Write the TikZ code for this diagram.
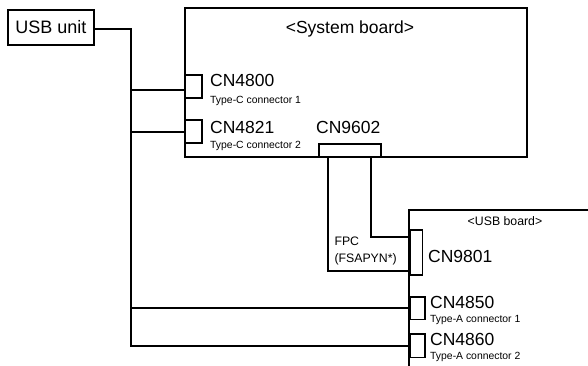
\documentclass[tikz,border=0pt]{standalone}
\usepackage{fontspec}
\setmainfont{Liberation Sans}
\usetikzlibrary{positioning}

\begin{document}
\begin{tikzpicture}[
    x=1pt, y=-1pt,
    wire/.style={line width=1.8pt},
    board/.style={draw, line width=1.8pt, anchor=north west, inner sep=0pt},
    conn/.style={draw, line width=1.8pt, anchor=north west, inner sep=0pt},
    bigtxt/.style={font=\fontsize{17.5}{20}\selectfont, inner sep=0pt, anchor=base west},
    midtxt/.style={font=\fontsize{12.3}{14}\selectfont, inner sep=0pt, anchor=base west},
    smalltxt/.style={font=\fontsize{10.4}{12}\selectfont, inner sep=0pt, anchor=base west},
  ]
  \useasboundingbox (0,0) rectangle (588,366);

  % USB unit and its bus
  \node[draw, line width=1.8pt, minimum width=86pt, minimum height=35pt, inner sep=0pt,
        font=\fontsize{18}{20}\selectfont] (unit) at (51,27.5) {USB unit};
  \coordinate (busTop) at (131,29);
  \coordinate (busBot) at (131,346);

  % System board
  \node[board, minimum width=342pt, minimum height=149pt] (sysboard) at (184,7) {};
  \node[bigtxt, anchor=base] (systitle) at (350,34) {<System board>};
  \node[conn, minimum width=17pt, minimum height=23pt] (cn4800) at (184,74) {};
  \node[conn, minimum width=17pt, minimum height=23pt] (cn4821) at (184,119.5) {};
  \node[conn, minimum width=62pt, minimum height=12.5pt] (cn9602) at (318,143.5) {};
  \node[bigtxt] (cn4800lbl) at (210,87) {CN4800};
  \node[smalltxt] (cn4800sub) at (210,103.5) {Type-C connector 1};
  \node[bigtxt] (cn4821lbl) at (210,133.3) {CN4821};
  \node[smalltxt] (cn4821sub) at (210,148.5) {Type-C connector 2};
  \node[bigtxt] (cn9602lbl) at (316,133.3) {CN9602};

  % USB board (runs off the picture)
  \coordinate (usbcorner) at (409,210);
  \draw[wire] (588,210) -- (usbcorner) -- (409,366);
  \node[midtxt, anchor=base] (usbtitle) at (505,225.5) {<USB board>};
  \node[conn, minimum width=12.5pt, minimum height=45pt] (cn9801) at (409,229) {};
  \node[conn, minimum width=15pt, minimum height=22.5pt] (cn4850) at (409,296) {};
  \node[conn, minimum width=15pt, minimum height=23.5pt] (cn4860) at (409,333) {};
  \node[bigtxt] (cn9801lbl) at (428,262.3) {CN9801};
  \node[bigtxt] (cn4850lbl) at (430,308.3) {CN4850};
  \node[smalltxt] (cn4850sub) at (430,322) {Type-A connector 1};
  \node[bigtxt] (cn4860lbl) at (430,345) {CN4860};
  \node[smalltxt] (cn4860sub) at (430,359) {Type-A connector 2};

  % FPC cable
  \coordinate (fpcL) at (328.3,271);
  \coordinate (fpcR) at (371,237);
  \draw[wire] (fpcL |- cn9602.south) -- (fpcL) -- (fpcL -| cn9801.west);
  \draw[wire] (fpcR |- cn9602.south) -- (fpcR) -- (fpcR -| cn9801.west);
  \node[midtxt] (fpclbl) at (334.3,245.7) {FPC};
  \node[midtxt] (fpcsub) at (334.3,262) {(FSAPYN*)};

  % USB wiring
  \draw[wire] (busTop -| unit.east) -- (busTop) -- (busBot) -- (busBot -| cn4860.west);
  \draw[wire] (busTop |- 0,90) -- (sysboard.west |- 0,90);
  \draw[wire] (busTop |- 0,132) -- (sysboard.west |- 0,132);
  \draw[wire] (busTop |- 0,308) -- (cn4850.west |- 0,308);
\end{tikzpicture}
\end{document}
